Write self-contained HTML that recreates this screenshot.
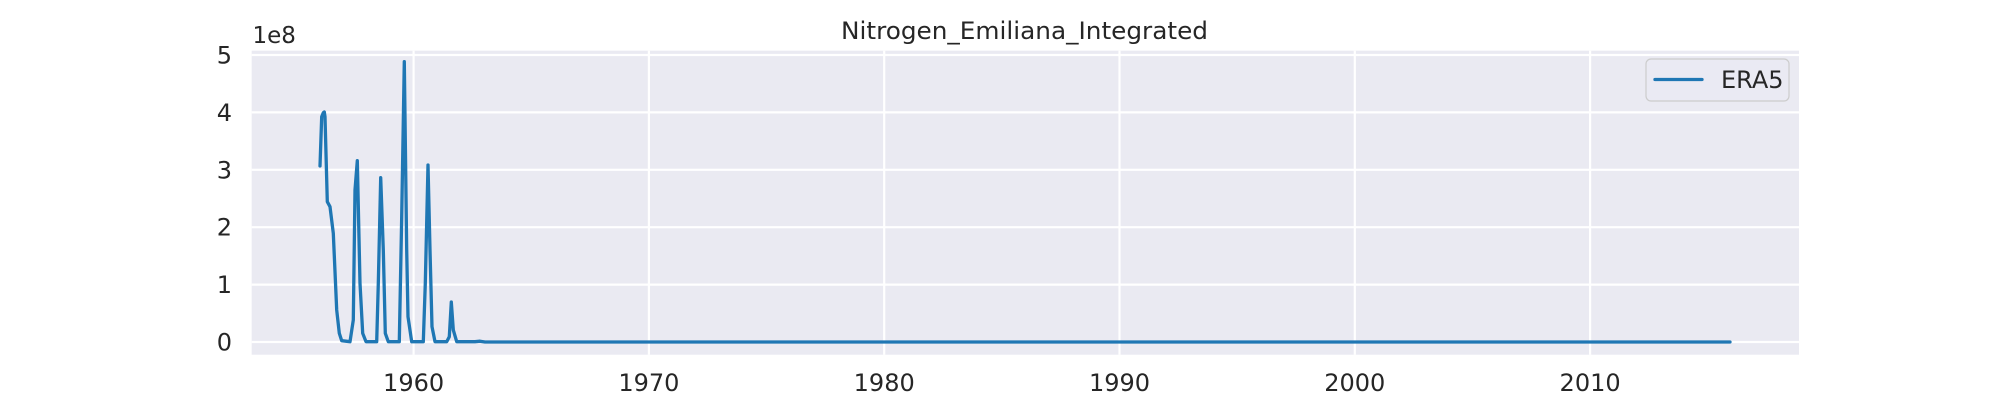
<!DOCTYPE html>
<html><head><meta charset="utf-8"><style>html,body{margin:0;padding:0;background:#fff;}svg{display:block}</style></head>
<body>
<svg width="2000" height="400" viewBox="0 0 2000 400" xmlns="http://www.w3.org/2000/svg" font-family="'DejaVu Sans','Liberation Sans',sans-serif" fill="#262626">
<rect x="0" y="0" width="2000" height="400" fill="#fff"/>
<rect x="251.7" y="50.7" width="1547.3" height="304" fill="#eaeaf2"/>
<g stroke="#fff" stroke-width="2.2">
<line x1="251.7" x2="1799" y1="342" y2="342"/>
<line x1="251.7" x2="1799" y1="284.6" y2="284.6"/>
<line x1="251.7" x2="1799" y1="227.2" y2="227.2"/>
<line x1="251.7" x2="1799" y1="169.8" y2="169.8"/>
<line x1="251.7" x2="1799" y1="112.4" y2="112.4"/>
<line x1="251.7" x2="1799" y1="55" y2="55"/>
<line y1="50.7" y2="354.7" x1="413.6" x2="413.6"/>
<line y1="50.7" y2="354.7" x1="648.9" x2="648.9"/>
<line y1="50.7" y2="354.7" x1="884.2" x2="884.2"/>
<line y1="50.7" y2="354.7" x1="1119.5" x2="1119.5"/>
<line y1="50.7" y2="354.7" x1="1354.8" x2="1354.8"/>
<line y1="50.7" y2="354.7" x1="1590.1" x2="1590.1"/>
</g>
<polyline fill="none" stroke="#1f77b4" stroke-width="3.3" stroke-linejoin="round" stroke-linecap="round" points="320,166 321.7,116.7 323.3,112.7 324.3,112 325,116.7 327.3,201.7 330,206.7 333.3,233.3 336.7,310 339.3,333.3 341.7,340.7 350,341.7 353.3,320 355,190 357.3,160.7 360,283.3 362.7,333.3 366,341.7 376.7,341.7 378.3,283.3 380.7,177.7 383.3,250 385.3,333.3 388.3,341.7 399.3,341.7 401.7,216.7 404.3,61.7 406.7,250 408,316.7 411.7,341.7 423.3,341.7 425.3,283.3 428,165 430,250 432,326.7 435,341.7 446.7,341.7 449.3,336.7 451.3,302 453.3,330 456.7,341.7 475,341.7 480,341.2 485,342 1730,342"/>
<g font-size="24" text-anchor="end">
<text x="232" y="350.5">0</text>
<text x="232" y="293.1">1</text>
<text x="232" y="235.7">2</text>
<text x="232" y="178.3">3</text>
<text x="232" y="120.9">4</text>
<text x="232" y="63.5">5</text>
</g>
<text x="252.5" y="43" font-size="23">1e8</text>
<g font-size="24" text-anchor="middle">
<text x="413.6" y="391">1960</text>
<text x="648.9" y="391">1970</text>
<text x="884.2" y="391">1980</text>
<text x="1119.5" y="391">1990</text>
<text x="1354.8" y="391">2000</text>
<text x="1590.1" y="391">2010</text>
</g>
<text x="1024.5" y="39" font-size="24" text-anchor="middle" textLength="367" lengthAdjust="spacingAndGlyphs">Nitrogen_Emiliana_Integrated</text>
<rect x="1646" y="59" width="143" height="42" rx="5" fill="#eaeaf2" fill-opacity="0.8" stroke="#cccccc" stroke-width="1.2"/>
<line x1="1655" x2="1702" y1="79.5" y2="79.5" stroke="#1f77b4" stroke-width="3.3" stroke-linecap="round"/>
<text x="1721" y="88" font-size="24">ERA5</text>
</svg>
</body></html>
